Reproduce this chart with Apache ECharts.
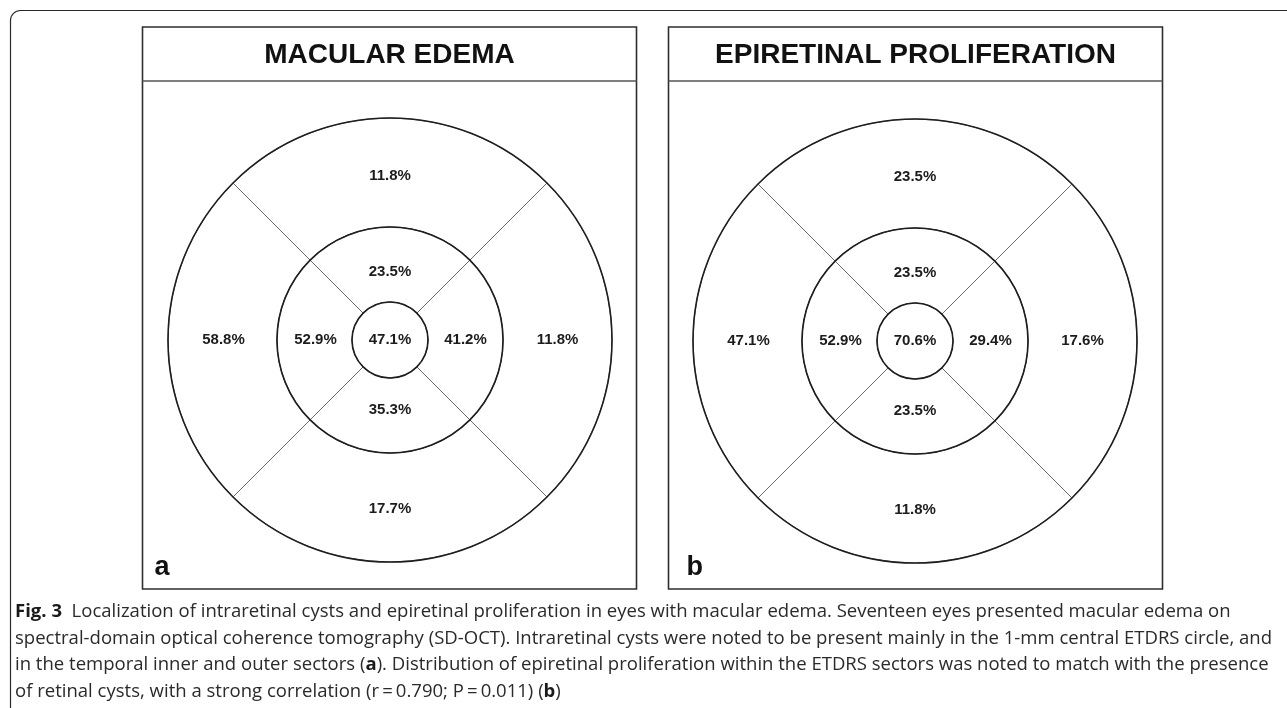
<!DOCTYPE html>
<html><head><meta charset="utf-8">
<script src="https://cdn.jsdelivr.net/npm/echarts@6/dist/echarts.min.js"></script>
<style>html,body{margin:0;padding:0;background:#fff}#c{width:1287px;height:708px}</style>
</head><body><div id="c"></div>
<script>
// ---- data ----
const sectorNames = ['top', 'right', 'bottom', 'left'];
const panelTitles = ['MACULAR EDEMA', 'EPIRETINAL PROLIFERATION'];
const panelLetters = ['a', 'b'];
const edemaCenter = [47.1];
const edemaInner = [23.5, 41.2, 35.3, 52.9];
const edemaOuter = [11.8, 11.8, 17.7, 58.8];
const eprCenter = [70.6];
const eprInner = [23.5, 29.4, 23.5, 52.9];
const eprOuter = [23.5, 17.6, 11.8, 47.1];
const captionLines = [
  '{b|Fig. 3}  Localization of intraretinal cysts and epiretinal proliferation in eyes with macular edema. Seventeen eyes presented macular edema on',
  'spectral-domain optical coherence tomography (SD-OCT). Intraretinal cysts were noted to be present mainly in the 1-mm central ETDRS circle, and',
  'in the temporal inner and outer sectors ({b|a}). Distribution of epiretinal proliferation within the ETDRS sectors was noted to match with the presence',
  'of retinal cysts, with a strong correlation (r\u2009=\u20090.790; P\u2009=\u20090.011) ({b|b})'
];

// ---- layout ----
const panels = [
  {x: 142.5, cx: 390, cy: 340, letterDx: 12, center: edemaCenter, inner: edemaInner, outer: edemaOuter},
  {x: 668.5, cx: 915, cy: 341, letterDx: 18, center: eprCenter, inner: eprInner, outer: eprOuter}
];
const PW = 494, PTOP = 27, PBOT = 589, SEP = 81;
const R0 = 38, R1 = 113, R2 = 222;
// label nudges per sector (top, right, bottom, left)
const innerNudge = [[0, 10], [-3, 0], [0, -9], [4, 0]];
const outerNudge = [[0, 6], [-3, 0], [0, -2], [4, 0]];
const labelFont = {fontFamily: '"Liberation Sans", Arial, sans-serif', fontWeight: 'bold', fontSize: 15, color: '#1c1c1c'};

function sectorSeries(center, radius, vals, nudge) {
  return {
    type: 'pie', center: center, radius: radius, startAngle: 135, clockwise: true,
    silent: true, animation: false, avoidLabelOverlap: false,
    itemStyle: {color: '#fff', borderColor: '#6a6a6a', borderWidth: 1},
    label: Object.assign({show: true, position: vals.length === 1 ? 'center' : 'inside',
      formatter: p => p.data.pct.toFixed(1) + '%'}, labelFont),
    labelLine: {show: false},
    emphasis: {disabled: true},
    data: vals.map((v, i) => {
      const d = {name: vals.length === 1 ? 'center' : sectorNames[i], value: 1, pct: v};
      if (nudge) d.label = {offset: nudge[i]};
      return d;
    })
  };
}
function outlineSeries(center, radius) {
  return {
    type: 'pie', center: center, radius: radius, silent: true, animation: false,
    label: {show: false}, labelLine: {show: false}, emphasis: {disabled: true},
    itemStyle: {color: 'rgba(0,0,0,0)', borderColor: '#1e1e1e', borderWidth: 1.6},
    data: [{value: 1, name: 'ring'}]
  };
}

const series = [];
const graphic = [];
// outer figure frame (open to the right and bottom)
graphic.push({type: 'rect', shape: {x: 10.5, y: 10.5, width: 1300, height: 720, r: [10, 0, 0, 0]},
  style: {fill: 'none', stroke: '#2a2a2a', lineWidth: 1.2}, silent: true, z: 0});

panels.forEach((p, k) => {
  const c = [p.cx, p.cy];
  series.push(sectorSeries(c, [R1, R2], p.outer, outerNudge));
  series.push(sectorSeries(c, [R0, R1], p.inner, innerNudge));
  series.push(sectorSeries(c, [0, R0], p.center, null));
  series.push(outlineSeries(c, [R1, R2]));
  series.push(outlineSeries(c, [0, R0]));
  graphic.push({type: 'rect', shape: {x: p.x, y: PTOP, width: PW, height: PBOT - PTOP},
    style: {fill: 'none', stroke: '#2e2e2e', lineWidth: 1.6}, silent: true, z: 10});
  graphic.push({type: 'line', shape: {x1: p.x, y1: SEP, x2: p.x + PW, y2: SEP},
    style: {stroke: '#555', lineWidth: 1.6}, silent: true, z: 10});
  graphic.push({type: 'text', x: p.x + PW / 2, y: 55, silent: true, z: 10,
    style: {text: panelTitles[k], fontFamily: '"Liberation Sans", Arial, sans-serif', fontWeight: 'bold',
      fontSize: 28, fill: '#111', align: 'center', verticalAlign: 'middle'}});
  graphic.push({type: 'text', x: p.x + p.letterDx, y: 568, silent: true, z: 10,
    style: {text: panelLetters[k], fontFamily: '"Liberation Sans", Arial, sans-serif', fontWeight: 'bold',
      fontSize: 27, fill: '#111', align: 'left', verticalAlign: 'middle'}});
});

// caption
const capFam = '"Open Sans", "Noto Sans", sans-serif';
const capSize = 18;
const ctx = document.createElement('canvas').getContext('2d');
ctx.font = capSize + 'px ' + capFam;
const w2 = ctx.measureText(captionLines[1]).width;
const sx = 1257 / w2;
const capY = [612, 638.5, 665, 691.5];
captionLines.forEach((t, i) => {
  graphic.push({type: 'text', x: 15, y: capY[i], scaleX: sx, silent: true, z: 10,
    style: {text: t, fontFamily: capFam, fontSize: capSize, fill: '#2a2a2a', verticalAlign: 'middle', align: 'left',
      rich: {b: {fontFamily: capFam, fontSize: capSize, fontWeight: 'bold', fill: '#1a1a1a'}}}});
});

const chart = echarts.init(document.getElementById('c'), null, {renderer: 'canvas'});
chart.setOption({backgroundColor: '#fff', animation: false, series: series, graphic: graphic});
</script>
</body></html>
